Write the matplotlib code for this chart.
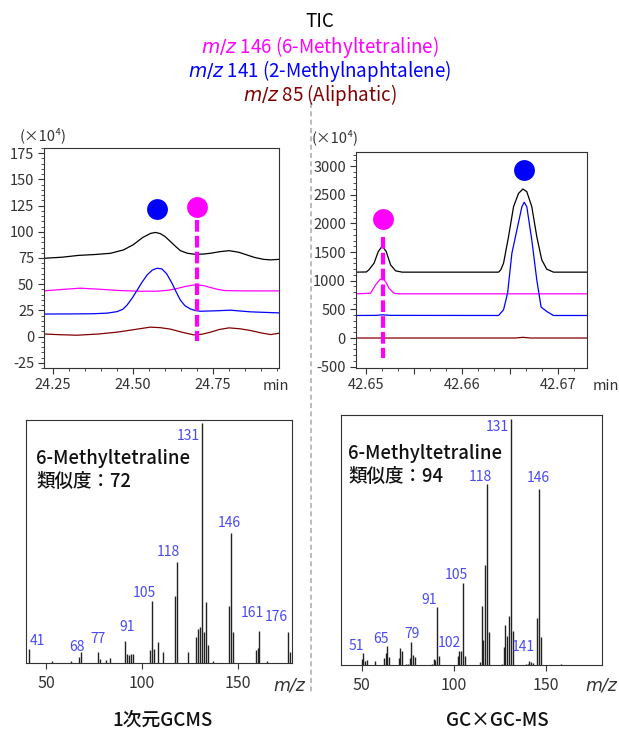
import matplotlib
matplotlib.use("Agg")
import matplotlib.pyplot as plt
from matplotlib.ticker import MultipleLocator, FixedLocator, FixedFormatter
from matplotlib.lines import Line2D

plt.rcParams['font.family'] = ['Noto Sans CJK JP', 'DejaVu Sans']
plt.rcParams['axes.unicode_minus'] = False
plt.rcParams['mathtext.fontset'] = 'dejavusans'

# ---------------- data: 1D GC chromatogram (x1e4) ----------------
t1_tic = [24.221, 24.28, 24.33, 24.38, 24.43, 24.47, 24.50, 24.53, 24.555, 24.57, 24.585, 24.60, 24.617,
          24.635, 24.648, 24.67, 24.695, 24.72, 24.742, 24.77, 24.80, 24.83, 24.856, 24.88, 24.908, 24.93, 24.956]
y1_tic = [74.7, 75.8, 77.5, 78.3, 79.5, 82.7, 87.5, 94.5, 98.5, 99.4, 98.3, 95.5, 90.7,
          85.5, 82.0, 79.5, 78.5, 78.8, 79.5, 81.0, 82.0, 80.5, 77.9, 75.5, 73.7, 73.2, 73.7]
t1_146 = [24.221, 24.28, 24.335, 24.39, 24.46, 24.52, 24.575, 24.61, 24.638, 24.665, 24.695, 24.72, 24.742,
          24.765, 24.788, 24.85, 24.956]
y1_146 = [43.6, 45.0, 46.2, 45.3, 43.9, 43.3, 43.3, 44.2, 45.9, 48.0, 49.4, 48.7, 46.8, 45.0, 43.9, 43.6, 43.6]
t1_141 = [24.221, 24.30, 24.377, 24.42, 24.45, 24.468, 24.481, 24.497, 24.513, 24.528, 24.544, 24.56, 24.575,
          24.59, 24.605, 24.622, 24.635, 24.648, 24.662, 24.679, 24.695, 24.71, 24.76, 24.804, 24.867, 24.956]
y1_141 = [21.5, 21.6, 21.8, 22.4, 23.8, 26.0, 29.9, 36.5, 44.3, 51.8, 58.8, 63.4, 65.2,
          64.6, 60.0, 50.8, 42.5, 34.8, 29.5, 26.4, 24.8, 24.2, 24.6, 25.2, 23.6, 22.6]
t1_85 = [24.221, 24.27, 24.325, 24.39, 24.45, 24.50, 24.554, 24.585, 24.617, 24.655, 24.69, 24.715, 24.742,
         24.77, 24.80, 24.835, 24.867, 24.90, 24.93, 24.956]
y1_85 = [2.5, 1.8, 1.3, 2.4, 4.2, 6.5, 9.0, 8.5, 7.1, 4.0, 1.6, 2.2, 4.2, 6.8, 8.3, 7.4, 5.8, 3.5, 1.9, 3.2]
rt1_146 = 24.70
rt1_141 = 24.576

# ---------------- data: GCxGC chromatogram (x1e4) ----------------
t2_tic = [42.64889, 42.6500, 42.65027, 42.6508, 42.65124, 42.65166, 42.65207, 42.65252, 42.65304, 42.65373,
          42.66377, 42.6640, 42.66429, 42.66481, 42.66533, 42.66585, 42.6663, 42.66671, 42.66723, 42.66775,
          42.66827, 42.66879, 42.66949, 42.673]
y2_tic = [1149, 1152, 1190, 1305, 1508, 1607, 1508, 1276, 1172, 1149,
          1149, 1190, 1306, 1769, 2291, 2523, 2599, 2553, 2291, 1769,
          1363, 1201, 1149, 1149]
t2_146 = [42.64889, 42.65044, 42.65097, 42.65138, 42.65166, 42.652, 42.65235, 42.65287, 42.65339, 42.673]
y2_146 = [771, 782, 928, 1015, 1044, 986, 870, 782, 771, 771]
t2_141 = [42.64889, 42.6510, 42.65166, 42.6525, 42.66377, 42.66429, 42.66471, 42.66516, 42.66568, 42.6662,
          42.66644, 42.66671, 42.66723, 42.66775, 42.6682, 42.66879, 42.66949, 42.673]
y2_141 = [393, 395, 405, 395, 393, 493, 783, 1480, 1886, 2291, 2368, 2291, 1712, 1015, 540, 463, 393, 393]
t2_85 = [42.64889, 42.6655, 42.6663, 42.6671, 42.673]
y2_85 = [0, 0, 12, 0, 0]
rt2_146 = 42.65172
rt2_141 = 42.66644

# ---------------- data: mass spectra ----------------
ms1_mz = [41, 53, 63, 67, 68, 77, 78, 81, 83, 91, 92, 93, 94, 95, 104, 105, 106, 108, 111, 117, 118,
          124, 128, 129, 130, 131, 132, 133, 134, 137, 145, 146, 147, 159, 160, 161, 165, 176, 177]
ms1_int = [6.0, 0.8, 0.8, 2.5, 4.7, 4.7, 1.7, 1.3, 2.0, 9.2, 3.9, 3.3, 3.9, 3.9, 5.5, 25.7, 6.0, 8.7, 4.7, 28.0, 42.0,
           4.5, 10.8, 14.2, 15.2, 100, 12.9, 25.2, 7.6, 0.8, 23.9, 54.0, 12.9, 5.5, 6.2, 13.5, 0.8, 13.0, 4.6]
ms1_lab_text = ['41', '68', '77', '91', '105', '118', '131', '146', '161', '176']
ms1_lab_x = [45.7, 65.9, 77.0, 92.1, 101.3, 113.7, 124.0, 145.4, 157.2, 169.6]
ms1_lab_y = [9.3, 6.8, 9.9, 15.0, 29.3, 46.1, 94.6, 58.5, 21.0, 19.0]
ms1_name = '6-Methyltetraline'
ms1_score = 72

ms2_mz = [50, 51, 52, 53, 57, 62, 63, 64, 65, 70, 71, 72, 74, 75, 76, 77, 78, 79, 88, 89, 90, 91, 92,
          102, 103, 104, 105, 106, 114, 115, 116, 117, 118, 119, 126, 127, 128, 129, 130, 131, 132,
          139, 140, 141, 142, 143, 145, 146, 147, 158]
ms2_int = [2.4, 4.9, 1.8, 2.0, 1.6, 2.8, 4.9, 7.8, 3.1, 2.8, 7.1, 5.5, 0.6, 0.6, 2.8, 9.2, 4.2, 3.4, 0.4, 2.4, 2.2, 23.4, 3.6,
           3.8, 5.8, 5.5, 33.4, 3.8, 1.4, 23.8, 10.1, 40.5, 73.6, 13.6, 0.6, 7.4, 16.4, 11.9, 20.0, 100, 14.0,
           0.5, 0.6, 1.5, 1.3, 1.0, 19.1, 71.6, 11.2, 0.3]
ms2_lab_text = ['51', '65', '79', '91', '102', '105', '118', '131', '141', '146']
ms2_lab_x = [47.3, 60.3, 77.1, 86.7, 97.5, 101.2, 114.2, 123.6, 137.4, 146.0]
ms2_lab_y = [7.9, 10.7, 12.8, 26.3, 8.8, 36.5, 76.3, 96.6, 7.2, 76.0]
ms2_name = '6-Methyltetraline'
ms2_score = 94

title_lines = ['TIC', r'$\mathit{m/z}$ 146 (6-Methyltetraline)',
               r'$\mathit{m/z}$ 141 (2-Methylnaphtalene)', r'$\mathit{m/z}$ 85 (Aliphatic)']
panel_names = ['1次元GCMS', 'GC×GC-MS']

# ---------------- styling ----------------
W, H = 619, 729
C_TIC, C_146, C_141, C_85 = '#000000', '#FF00FF', '#0000FF', '#800000'
title_colors = [C_TIC, C_146, C_141, C_85]
LAB_BLUE = '#4A4AF5'
TXT = '#333333'

fig = plt.figure(figsize=(W / 100, H / 100), dpi=100)


def fx(px):
    return px / W


def fy(py):
    return 1 - py / H


def box(l, t, r, b):
    return [fx(l), fy(b), fx(r) - fx(l), fy(t) - fy(b)]


# Title
for i, (s, c) in enumerate(zip(title_lines, title_colors)):
    fig.text(fx(320), fy([21.7, 46.7, 70.5, 95.5][i]), s, color=c, fontsize=13.5,
             ha='center', va='center')

# separator
fig.add_artist(Line2D([fx(311), fx(311)], [fy(103), fy(693)], color='#b0b0b0', lw=1.2,
                      linestyle=(0, (3, 2))))


def style_chrom(ax):
    for sp in ax.spines.values():
        sp.set_color('#333333')
        sp.set_linewidth(0.8)
    ax.tick_params(which='both', direction='out', colors='#333333', labelcolor=TXT, labelsize=10.5)
    ax.tick_params(which='major', length=4, width=0.8, pad=3)
    ax.tick_params(which='minor', length=2.2, width=0.6)


# ---- top-left chromatogram ----
ax1 = fig.add_axes(box(44, 148, 279, 368))
ax1.plot(t1_tic, y1_tic, color=C_TIC, lw=0.9)
ax1.plot(t1_146, y1_146, color=C_146, lw=0.9)
ax1.plot(t1_141, y1_141, color=C_141, lw=0.9)
ax1.plot(t1_85, y1_85, color=C_85, lw=0.9)
ax1.plot([rt1_146, rt1_146], [111, -4], color=C_146, lw=3, linestyle=(0, (2.8, 1.0)))
ax1.plot([rt1_146], [124], 'o', color=C_146, ms=15, mec='none')
ax1.plot([rt1_141], [121.4], 'o', color=C_141, ms=15, mec='none')
ax1.set_xlim(24.222, 24.956)
ax1.set_ylim(-30, 180)
ax1.yaxis.set_major_locator(MultipleLocator(25))
ax1.yaxis.set_minor_locator(MultipleLocator(5))
ax1.xaxis.set_major_locator(FixedLocator([24.25, 24.5, 24.75]))
ax1.xaxis.set_major_formatter(FixedFormatter(['24.25', '24.50', '24.75']))
ax1.xaxis.set_minor_locator(MultipleLocator(0.05))
style_chrom(ax1)
fig.text(fx(20), fy(135), '(×10⁴)', fontsize=10.5, color=TXT, ha='left', va='center')
fig.text(fx(263), fy(386), 'min', fontsize=10.5, color=TXT, ha='left', va='center')

# ---- top-right chromatogram ----
ax2 = fig.add_axes(box(355.7, 151.7, 586.7, 368))
ax2.plot(t2_tic, y2_tic, color=C_TIC, lw=0.9)
ax2.plot(t2_146, y2_146, color=C_146, lw=0.9)
ax2.plot(t2_141, y2_141, color=C_141, lw=0.9)
ax2.plot(t2_85, y2_85, color=C_85, lw=0.9)
ax2.plot([rt2_146, rt2_146], [1757, -354], color=C_146, lw=3, linestyle=(0, (2.8, 1.0)))
ax2.plot([rt2_146], [2076], 'o', color=C_146, ms=15, mec='none')
ax2.plot([rt2_141], [2930], 'o', color=C_141, ms=15, mec='none')
ax2.set_xlim(42.64889, 42.67295)
ax2.set_ylim(-523, 3250)
ax2.yaxis.set_major_locator(MultipleLocator(500))
ax2.yaxis.set_minor_locator(MultipleLocator(100))
ax2.xaxis.set_major_locator(FixedLocator([42.65, 42.655, 42.66, 42.665, 42.67]))
ax2.xaxis.set_major_formatter(FixedFormatter(['42.65', '', '42.66', '', '42.67']))
ax2.xaxis.set_minor_locator(MultipleLocator(0.005 / 3))
style_chrom(ax2)
fig.text(fx(312), fy(137), '(×10⁴)', fontsize=10.5, color=TXT, ha='left', va='center')
fig.text(fx(593), fy(386), 'min', fontsize=10.5, color=TXT, ha='left', va='center')


def style_ms(ax):
    for sp in ax.spines.values():
        sp.set_color('#333333')
        sp.set_linewidth(0.8)
    ax.set_yticks([])
    ax.xaxis.set_major_locator(MultipleLocator(50))
    ax.tick_params(axis='x', direction='out', length=4, width=0.8, colors='#333333',
                   labelcolor=TXT, labelsize=11.5, pad=5)


# ---- bottom-left spectrum ----
ax3 = fig.add_axes(box(25.7, 420, 292.3, 663))
ax3.vlines(ms1_mz, 0, ms1_int, color='#222222', lw=1.0)
for s, x, y in zip(ms1_lab_text, ms1_lab_x, ms1_lab_y):
    ax3.text(x, y, s, color=LAB_BLUE, fontsize=10, ha='center', va='center')
ax3.set_xlim(39.4, 178.1)
ax3.set_ylim(0, 101.2)
style_ms(ax3)
fig.text(fx(36), fy(458.3), ms1_name, fontsize=13.3, fontweight='medium', color='#111111',
         ha='left', va='center')
fig.text(fx(36), fy(481.5), f'類似度：{ms1_score}', fontsize=13.3, fontweight='medium',
         color='#111111', ha='left', va='center')
fig.text(fx(273), fy(685.5), 'm/z', fontsize=12.5, style='italic', family='DejaVu Sans',
         color=TXT, ha='left', va='center')
fig.text(fx(162.5), fy(720), panel_names[0], fontsize=13.5, fontweight='medium', color='#111111',
         ha='center', va='center')

# ---- bottom-right spectrum ----
ax4 = fig.add_axes(box(341, 415, 602.3, 665))
ax4.vlines(ms2_mz, 0, ms2_int, color='#222222', lw=1.0)
for s, x, y in zip(ms2_lab_text, ms2_lab_x, ms2_lab_y):
    ax4.text(x, y, s, color=LAB_BLUE, fontsize=10, ha='center', va='center')
ax4.set_xlim(38.8, 180.5)
ax4.set_ylim(0, 101.6)
style_ms(ax4)
fig.text(fx(348.3), fy(453.3), ms2_name, fontsize=13.3, fontweight='medium', color='#111111',
         ha='left', va='center')
fig.text(fx(348.3), fy(476.5), f'類似度：{ms2_score}', fontsize=13.3, fontweight='medium',
         color='#111111', ha='left', va='center')
fig.text(fx(585), fy(685), 'm/z', fontsize=12.5, style='italic', family='DejaVu Sans',
         color=TXT, ha='left', va='center')
fig.text(fx(497), fy(721), panel_names[1], fontsize=13.5, fontweight='medium', color='#111111',
         ha='center', va='center')

fig.savefig('out.png', dpi=100)
